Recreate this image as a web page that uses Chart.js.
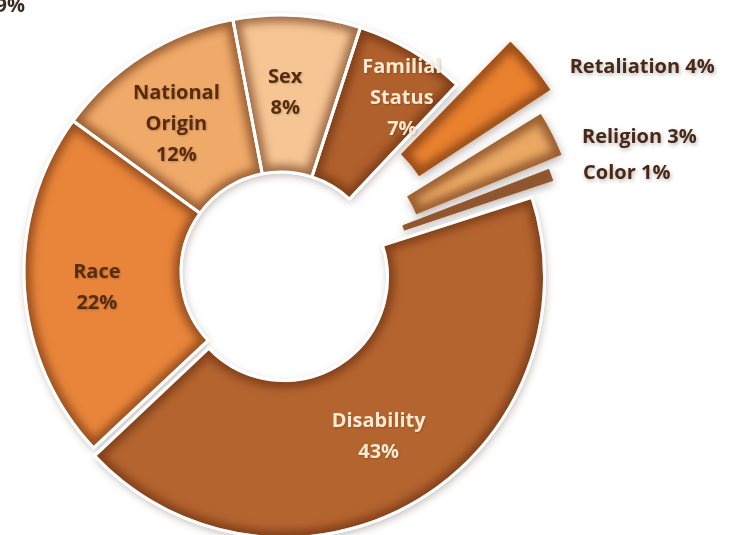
<!DOCTYPE html>
<html>
<head>
<meta charset="utf-8">
<title>Complaints by basis</title>
<script src="https://cdn.jsdelivr.net/npm/chart.js@4.4.0/dist/chart.umd.min.js"></script>
<style>
  html, body { margin: 0; padding: 0; background: #fff; }
  #wrap { width: 743px; height: 535px; }
</style>
</head>
<body>
<div id="wrap"><canvas id="basisChart" width="743" height="535"></canvas></div>
<script>
// complaint share by basis, in percent
var bases = ['Disability', 'Race', 'National Origin', 'Sex', 'Familial Status', 'Retaliation', 'Religion', 'Color'];
var shares = [43, 22, 12, 8, 7, 4, 3, 1];

// look of each slice
var sliceColors = ['#b4642f', '#e8853a', '#efa969', '#f6c594', '#b0602d', '#e9812f', '#eaa864', '#cf935f'];
var sliceOffsets = [24, 0, 0, 0, 0, 156, 104, 62];
var sliceBorders = [3, 3, 3, 3, 3, 0, 0, 0];
var labelInk = ['#fbead0', '#5a2c0e', '#5a2c0e', '#5a2c0e', '#fbead0', '#4a2816', '#4a2816', '#4a2816'];
var labelOutside = [false, false, false, false, false, true, true, true];
var labelNudge = [[2, 3], [-6, 5], [-9, 3], [-7, -1], [30, -20], [38, 3], [30, 3], [32, -1]];

var OUTER_R = 257;
var INNER_R = 100;
var LABEL_FONT = 'bold 20px "Open Sans"';
var LINE_H = 31;

// rebuild the drawn outline of an arc (Chart.js v4 applies offset/4 as a shift
// plus a small radial push for narrow slices)
function arcShape(arc) {
    var o = (arc.options.offset || 0) / 4;
    var circ = arc.endAngle - arc.startAngle;
    var mid = (arc.startAngle + arc.endAngle) / 2;
    var ro = o * (1 - Math.sin(Math.min(Math.PI, circ)));
    var R = arc.outerRadius + ro;
    var r = arc.innerRadius + ro;
    var beta = Math.max(0.001, circ * R - ro / Math.PI) / R;
    var trim = (circ - beta) / 2;
    return {
        cx: arc.x + Math.cos(mid) * o,
        cy: arc.y + Math.sin(mid) * o,
        R: R, r: r, mid: mid,
        start: arc.startAngle + trim,
        end: arc.endAngle - trim
    };
}

function tracePath(ctx, s) {
    ctx.beginPath();
    ctx.arc(s.cx, s.cy, s.R, s.start, s.end);
    ctx.arc(s.cx, s.cy, s.r, s.end, s.start, true);
    ctx.closePath();
}

// soft drop shadow under the ring
var shadowPlugin = {
    id: 'ringShadow',
    beforeDatasetsDraw: function(chart) {
        var ctx = chart.ctx;
        ctx.save();
        ctx.shadowColor = 'rgba(60, 40, 30, 0.35)';
        ctx.shadowBlur = 9;
        ctx.shadowOffsetX = 1;
        ctx.shadowOffsetY = 3;
        chart.getDatasetMeta(0).data.forEach(function(arc, i) {
            tracePath(ctx, arcShape(arc));
            ctx.fillStyle = sliceColors[i];
            ctx.fill();
        });
        ctx.restore();
    }
};

// darkened rim on every slice, then the white seams again
var bevelPlugin = {
    id: 'bevel',
    afterDatasetsDraw: function(chart) {
        var ctx = chart.ctx;
        var arcs = chart.getDatasetMeta(0).data;
        arcs.forEach(function(arc) {
            var s = arcShape(arc);
            ctx.save();
            tracePath(ctx, s);
            ctx.clip();
            ctx.filter = 'blur(4px)';
            ctx.lineWidth = 14;
            ctx.strokeStyle = 'rgba(90, 35, 8, 0.55)';
            tracePath(ctx, s);
            ctx.stroke();
            ctx.restore();
        });
        arcs.forEach(function(arc, i) {
            if (!sliceBorders[i]) return;
            ctx.save();
            tracePath(ctx, arcShape(arc));
            ctx.lineWidth = sliceBorders[i];
            ctx.strokeStyle = '#fff';
            ctx.stroke();
            ctx.restore();
        });
    }
};

var labelPlugin = {
    id: 'sliceLabels',
    afterDraw: function(chart) {
        var ctx = chart.ctx;
        ctx.save();
        ctx.font = LABEL_FONT;
        ctx.textBaseline = 'middle';
        chart.getDatasetMeta(0).data.forEach(function(arc, i) {
            var s = arcShape(arc);
            var nx = labelNudge[i][0], ny = labelNudge[i][1];
            ctx.fillStyle = labelInk[i];
            if (labelOutside[i]) {
                ctx.textAlign = 'left';
                ctx.shadowColor = 'rgba(0, 0, 0, 0.3)';
                ctx.shadowBlur = 4;
                ctx.shadowOffsetX = 1;
                ctx.shadowOffsetY = 2;
                var x = s.cx + Math.cos(s.mid) * s.R + nx;
                var y = s.cy + Math.sin(s.mid) * s.R + ny;
                ctx.fillText(bases[i] + ' ' + shares[i] + '%', x, y);
            } else {
                ctx.textAlign = 'center';
                ctx.shadowColor = 'rgba(0, 0, 0, 0.2)';
                ctx.shadowBlur = 2;
                ctx.shadowOffsetX = 1;
                ctx.shadowOffsetY = 1;
                var rm = (s.R + s.r) / 2;
                var lines = bases[i].split(' ').concat([shares[i] + '%']);
                var cx = s.cx + Math.cos(s.mid) * rm + nx;
                var cy = s.cy + Math.sin(s.mid) * rm + ny - (lines.length - 1) * LINE_H / 2;
                lines.forEach(function(t, k) {
                    ctx.fillText(t, cx, cy + k * LINE_H);
                });
            }
        });
        // tail of a neighbouring figure's label, cut by the frame
        ctx.textAlign = 'right';
        ctx.textBaseline = 'alphabetic';
        ctx.fillStyle = '#3b2a20';
        ctx.shadowColor = 'transparent';
        ctx.fillText('9%', 25, 12);
        ctx.restore();
    }
};

var ctx = document.getElementById('basisChart').getContext('2d');
var chart = new Chart(ctx, {
    type: 'doughnut',
    data: {
        labels: bases,
        datasets: [{
            label: 'Share of complaints',
            data: shares,
            backgroundColor: sliceColors,
            offset: sliceOffsets,
            borderColor: '#ffffff',
            borderWidth: sliceBorders,
            clip: false
        }]
    },
    options: {
        responsive: false,
        animation: false,
        rotation: 72,
        radius: OUTER_R,
        cutout: (INNER_R / OUTER_R * 100) + '%',
        layout: { padding: { left: 0, right: 181, top: 9, bottom: 0 } },
        plugins: {
            legend: { display: false },
            tooltip: { enabled: false }
        }
    },
    plugins: [shadowPlugin, bevelPlugin, labelPlugin]
});
</script>
</body>
</html>
